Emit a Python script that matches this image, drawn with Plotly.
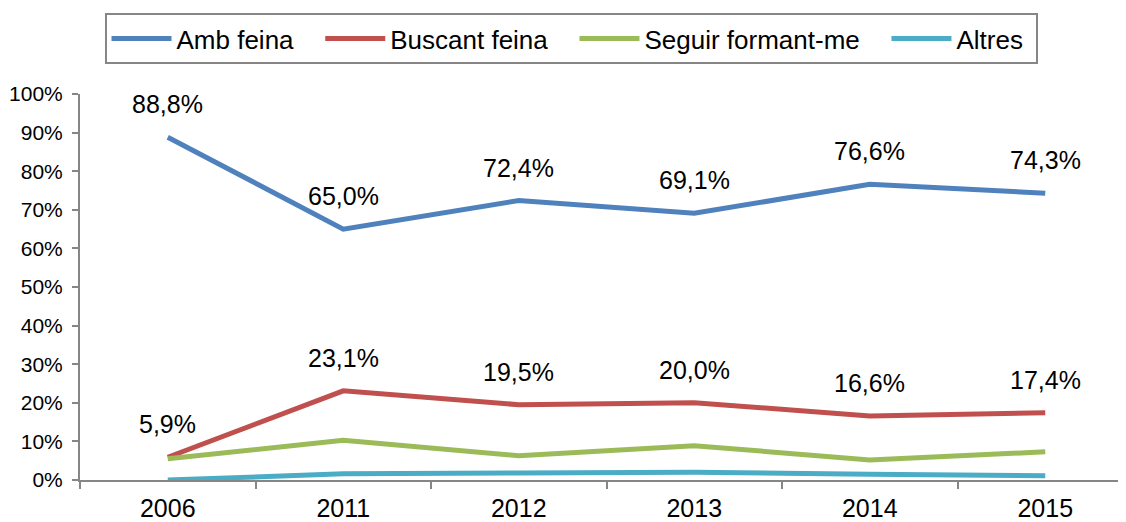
import plotly.graph_objects as go

years = ["2006", "2011", "2012", "2013", "2014", "2015"]
amb_feina = [88.8, 65.0, 72.4, 69.1, 76.6, 74.3]
buscant_feina = [5.9, 23.1, 19.5, 20.0, 16.6, 17.4]
seguir_formant = [5.5, 10.3, 6.3, 8.9, 5.2, 7.3]
altres = [0.0, 1.6, 1.8, 2.0, 1.5, 1.1]
y_ticks = list(range(0, 101, 10))

series = [
    ("Amb feina", amb_feina, "#4F81BD", True),
    ("Buscant feina", buscant_feina, "#C0504D", True),
    ("Seguir formant-me", seguir_formant, "#9BBB59", False),
    ("Altres", altres, "#4BACC6", False),
]

FONT = "Liberation Sans, Arial, sans-serif"
NBSP = "\u00a0"

fig = go.Figure()
annotations = []
for k, (name, vals, color, labelled) in enumerate(series):
    legend_name = name + (NBSP * 3 if k < len(series) - 1 else NBSP)
    fig.add_trace(go.Scatter(
        x=years, y=vals, name=legend_name, mode="lines",
        line=dict(color=color, width=5),
        cliponaxis=False,
    ))
    if labelled:
        for i, yv in enumerate(vals):
            annotations.append(dict(
                x=i, y=yv, xref="x", yref="y",
                text=f"{yv:.1f}%".replace(".", ","),
                showarrow=False, yanchor="bottom", xanchor="center",
                yshift=17, font=dict(size=25, color="#000000", family=FONT),
            ))

fig.update_layout(
    width=1126, height=522,
    margin=dict(l=72, r=1, t=86, b=50, autoexpand=False),
    paper_bgcolor="white", plot_bgcolor="white",
    font=dict(family=FONT, color="#000000"),
    showlegend=True,
    legend=dict(
        orientation="h", x=0.5, xref="container", xanchor="center",
        y=0.9904, yref="container", yanchor="top",
        font=dict(size=26, color="#000000", family=FONT),
        bordercolor="#868686", borderwidth=2,
        itemwidth=60, tracegroupgap=0,
    ),
    annotations=annotations,
)

fig.update_xaxes(
    type="category", range=[-0.5, 5.5],
    showline=True, linecolor="#868686", linewidth=2,
    ticks="outside", tickson="boundaries", ticklen=7, tickcolor="#868686", tickwidth=2,
    tickfont=dict(size=25, color="#000000", family=FONT),
    ticklabelstandoff=5,
    showgrid=False, zeroline=False, layer="below traces",
)
fig.update_yaxes(
    range=[0, 100], tickvals=y_ticks, ticktext=[f"{v}%" for v in y_ticks],
    showline=True, linecolor="#868686", linewidth=2,
    ticks="outside", ticklen=6, tickcolor="#868686", tickwidth=2,
    tickfont=dict(size=21, color="#000000", family=FONT),
    ticklabelstandoff=5,
    showgrid=False, zeroline=False, layer="below traces",
)

fig.write_html("out.html")
